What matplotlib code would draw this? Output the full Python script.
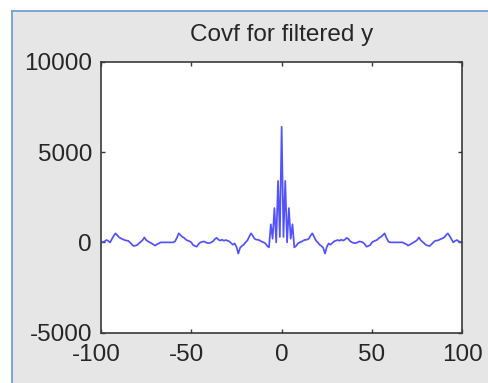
import numpy as np
import matplotlib
matplotlib.use("Agg")
import matplotlib.pyplot as plt
import matplotlib.transforms as mtransforms
from matplotlib.patches import Rectangle
from matplotlib.lines import Line2D

plt.rcParams['font.family'] = ['Liberation Sans', 'DejaVu Sans']
plt.rcParams['axes.unicode_minus'] = False

# Covariance function of the filtered signal, lags 0..100 (it is even: r(-k) = r(k))
lag_max = 100
cov_pos = [
    6400, 300, 3400, 0, 1900, 200, 1000, -275, -200, -60,      # 0-9
    0, 40, 100, 140, 150, 200, 370, 500, 300, 100,             # 10-19
    0, -130, -200, -300, -620, -250, -60, -130, -40, 55,       # 20-29
    90, 130, 90, 150, 100, 150, 250, 180, 60, 0,               # 30-39
    -40, -40, 0, 50, 30, 0, -100, -240, -200, -150,            # 40-49
    0, 60, 100, 150, 250, 300, 400, 500, 250, 60,              # 50-59
    0, 0, 0, 0, 0, 0, 0, 0, -60, -100,                         # 60-69
    -180, -120, -55, 0, 55, 130, 275, 120, 30, -55,            # 70-79
    -150, -180, -200, -100, 0, 90, 100, 130, 180, 220,         # 80-89
    275, 400, 500, 350, 180, 0, 80, 130, 55, 20,               # 90-99
    0,                                                         # 100
]
lags = np.arange(-lag_max, lag_max + 1)
cov_full = np.concatenate([cov_pos[:0:-1], cov_pos])

title_text = "Covf for filtered y"
x_ticks = [-100, -50, 0, 50, 100]
y_ticks = [-5000, 0, 5000, 10000]

W, H = 489, 383
fig = plt.figure(figsize=(W / 100, H / 100), dpi=100, facecolor='white')

# window-like panel: grey body with a blue frame on the top and left
frame_x0, frame_y0 = 12 / W, 0
frame_top = 1 - 11 / H
fig.patches.append(Rectangle((frame_x0, frame_y0), 1 - frame_x0, frame_top,
                             transform=fig.transFigure, facecolor='#e6e6e6',
                             edgecolor='none', zorder=-10))
fig.lines.append(Line2D([frame_x0, 1], [frame_top, frame_top], transform=fig.transFigure,
                        color='#6f9fd6', lw=1.3, zorder=-5))
fig.lines.append(Line2D([frame_x0, frame_x0], [0, frame_top], transform=fig.transFigure,
                        color='#6f9fd6', lw=1.3, zorder=-5))

ax = fig.add_axes([101 / W, 1 - 332.7 / H, 361.3 / W, 271 / H])
ax.set_facecolor('white')
ax.plot(lags, cov_full, color='#5252ff', lw=1.25)

ax.set_xlim(-100, 100)
ax.set_ylim(-5000, 10000)
ax.set_xticks(x_ticks)
ax.set_yticks(y_ticks)
ax.set_xticklabels([str(v) for v in x_ticks])
ax.set_yticklabels([str(v) for v in y_ticks])

for s in ax.spines.values():
    s.set_color('#3a3a3a')
    s.set_linewidth(1.2)

ax.tick_params(direction='in', length=3, width=1, color='#3a3a3a',
               top=True, right=True, labelsize=17.5, labelcolor='#262626')
ax.tick_params(axis='y', pad=6.5)
ax.tick_params(axis='x', pad=8)

# negative labels sit a little to the left of their tick
shift = mtransforms.ScaledTranslation(-5 / 100, 0, fig.dpi_scale_trans)
for lbl, v in zip(ax.get_xticklabels(), x_ticks):
    if v < 0:
        lbl.set_transform(lbl.get_transform() + shift)

ax.set_title(title_text, fontsize=17.5, color='#262626', pad=15)

fig.savefig('out.png', dpi=100, facecolor=fig.get_facecolor())
